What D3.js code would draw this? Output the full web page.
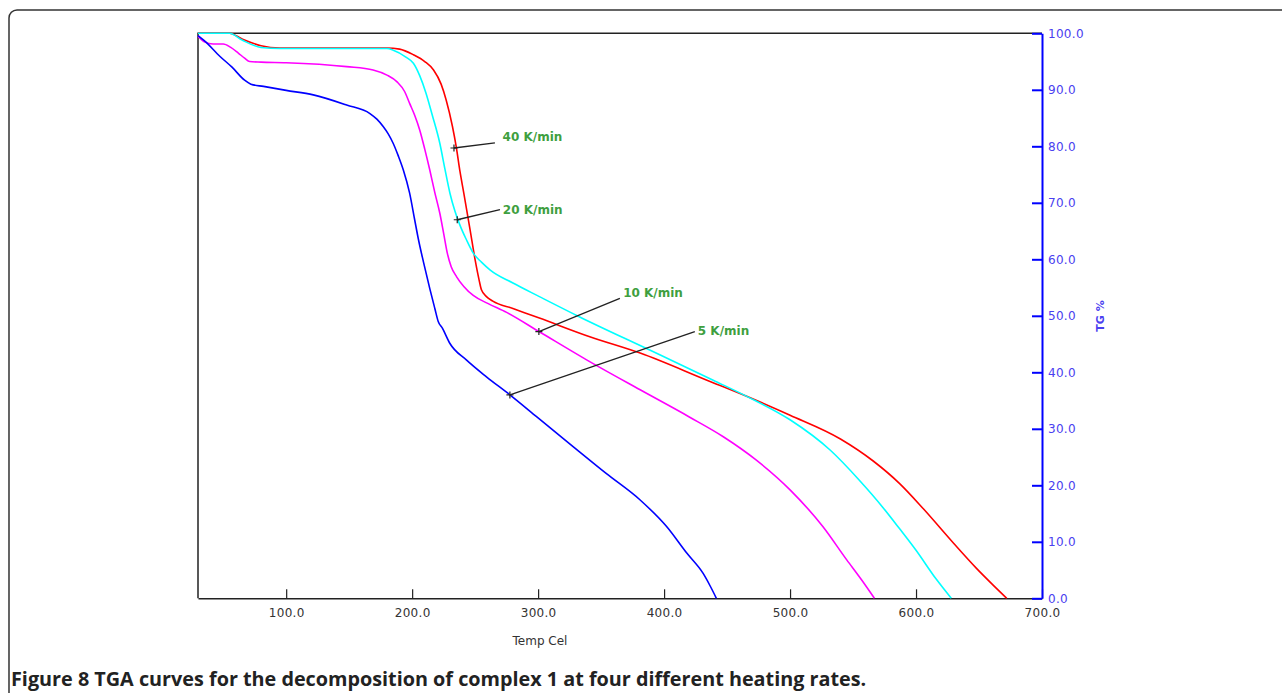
<!DOCTYPE html>
<html>
<head>
<meta charset="utf-8">
<script src="https://cdn.jsdelivr.net/npm/d3@7"></script>
<style>
  body { margin: 0; background: #fff; }
  svg { display: block; }
</style>
</head>
<body>
<div id="chart"></div>
<script>
// TGA curves, [temperature °C, mass %]
const rate40 = [
  [30, 100], [55, 100], [65, 99], [80, 97.8], [95, 97.4], [180, 97.4], [190, 97.2],
  [201, 96.2], [210, 95], [217, 93.5], [223, 91], [227, 88.2], [232, 83.5], [235, 79.9],
  [238, 75.5], [241, 71.7], [246, 65.2], [250, 59.9], [253, 56.5], [255, 54.6], [259, 53.4],
  [264, 52.6], [280, 51.3], [301, 49.6], [341, 46.3], [381, 43.4], [434, 38.6], [466, 35.7],
  [500, 32.4], [540, 28.2], [566, 24.3], [587, 20.3], [606, 15.8], [630, 9.7], [648, 5.3],
  [660, 2.6], [672, 0]
];
const rate20 = [
  [30, 100], [55, 100], [65, 98.8], [80, 97.5], [95, 97.3], [180, 97.3], [185, 97],
  [195, 95.8], [201, 94.7], [206, 92.5], [211, 89.4], [216, 85.5], [222, 80.5], [226, 76],
  [230, 71.7], [234, 68.5], [238, 66], [243, 63.5], [248.5, 61.1], [255, 59.5], [262, 58.1],
  [280, 55.8], [301, 53.4], [333, 49.8], [389, 43.9], [439, 38.6], [466, 35.7], [500, 31.6],
  [532, 26.2], [555, 20.9], [574, 16.0], [587, 12.3], [600, 8.5], [616, 3.4], [628, 0]
];
const rate10 = [
  [30, 99.5], [35, 98.5], [42, 98.1], [50, 98.1], [56, 97.5], [62, 96.5], [67, 95.6],
  [71, 95.0], [80, 94.9], [100, 94.8], [148, 94.1], [169, 93.5], [180, 92.6], [188, 91.4],
  [194, 89.7], [198, 87.6], [202, 85.5], [206, 82.9], [210, 79.5], [214, 75.8], [218, 71.8],
  [222, 68.1], [225, 64.6], [228, 61.0], [231, 58.7], [235.3, 56.9], [241, 55.2],
  [248.5, 53.6], [260, 52.2], [275, 50.6], [300, 47.3], [338.5, 42.2], [381, 36.9],
  [420, 32.1], [447, 28.6], [473, 24.5], [500, 19.2], [526, 12.7], [545, 6.8], [557, 3.2],
  [567, 0]
];
const rate5 = [
  [30, 99.6], [35, 98.7], [47.5, 95.9], [57, 94], [67, 91.7], [72, 91.0], [82, 90.6],
  [100, 89.9], [121.5, 89.1], [148, 87.3], [166.5, 85.8], [172, 84.8], [177, 83.5],
  [181, 82.2], [185, 80.5], [189, 78.3], [193, 75.8], [198, 71.7], [202, 67], [205, 63.5],
  [209, 59.5], [214, 54.8], [218, 51.3], [220.7, 49.0], [224, 47.8], [230, 45.1],
  [243, 42.2], [259, 39.2], [277.6, 36.0], [299, 32.1], [328, 26.8], [354, 22.1],
  [381, 17.4], [402, 12.7], [418, 8.0], [431, 4.4], [437, 2], [441.5, 0]
];
const seriesColors = ['#ff0000', '#00ffff', '#ff00ff', '#0000ff'];

// label: text, point on curve, end of leader line, text anchor point
const labelNames = ['40 K/min', '20 K/min', '10 K/min', '5 K/min'];
const labelAt = [[233.2, 79.7], [235.8, 67], [300.6, 47.2], [277.6, 36]];
const labelEnd = [[265.7, 80.6], [269.7, 68.8], [364.9, 53.1], [424.4, 47.2]];
const labelText = [[271.8, 81.7], [272, 68.7], [367.5, 54], [426.8, 47.4]];

const xTicks = [100, 200, 300, 400, 500, 600, 700];
const yTicks = [0, 10, 20, 30, 40, 50, 60, 70, 80, 90, 100];

const w = 1282;
const h = 693;

const xScale = d3.scaleLinear()
  .domain([30, 700])
  .range([198, 1042]);

const yScale = d3.scaleLinear()
  .domain([0, 100])
  .range([598.3, 33.3]);

const svg = d3.select('#chart')
  .append('svg')
  .attr('width', w)
  .attr('height', h);

// figure frame (rounded box running off the page)
svg.append('rect')
  .attr('x', 9)
  .attr('y', 10)
  .attr('width', 1320)
  .attr('height', 720)
  .attr('rx', 8)
  .attr('fill', 'none')
  .attr('stroke', '#333')
  .attr('stroke-width', 1.5);

// top and left borders of plot
svg.append('path')
  .attr('d', 'M' + xScale(700) + ',' + yScale(100) + 'H' + xScale(30) + 'V' + yScale(0))
  .attr('fill', 'none')
  .attr('stroke', '#222')
  .attr('stroke-width', 1.5);

const xAxis = svg.append('g')
  .attr('transform', 'translate(0,' + yScale(0) + ')')
  .call(d3.axisBottom(xScale)
    .tickValues(xTicks)
    .tickSizeInner(-9)
    .tickSizeOuter(0)
    .tickPadding(10)
    .tickFormat(d3.format('.1f')));
xAxis.select('.domain').attr('stroke', '#222').attr('stroke-width', 1.5);
xAxis.selectAll('.tick line').attr('stroke', '#222').attr('stroke-width', 1.2);
xAxis.selectAll('text')
  .attr('font-family', 'DejaVu Sans, sans-serif')
  .attr('font-size', '12px')
  .attr('letter-spacing', '0.3px')
  .attr('fill', '#333');

const yAxis = svg.append('g')
  .attr('transform', 'translate(' + xScale(700) + ',0)')
  .call(d3.axisRight(yScale)
    .tickValues(yTicks)
    .tickSizeInner(-10)
    .tickSizeOuter(0)
    .tickPadding(6)
    .tickFormat(d3.format('.1f')));
yAxis.select('.domain').attr('stroke', '#0000ff').attr('stroke-width', 2);
yAxis.selectAll('.tick line').attr('stroke', '#0000ff').attr('stroke-width', 2);
yAxis.selectAll('text')
  .attr('font-family', 'DejaVu Sans, sans-serif')
  .attr('font-size', '12px')
  .attr('letter-spacing', '0.3px')
  .attr('fill', '#4a40f0');

svg.append('text')
  .text('Temp Cel')
  .attr('x', 540)
  .attr('y', 645)
  .attr('font-family', 'DejaVu Sans, sans-serif')
  .attr('font-size', '12px')
  .attr('fill', '#333')
  .attr('text-anchor', 'middle');

svg.append('text')
  .text('TG %')
  .attr('transform', 'translate(1104,316) rotate(-90)')
  .attr('font-family', 'DejaVu Sans, sans-serif')
  .attr('font-size', '11px')
  .attr('font-weight', 'bold')
  .attr('fill', '#4a40f0')
  .attr('text-anchor', 'middle');

const line = d3.line()
  .x(function(d) { return xScale(d[0]); })
  .y(function(d) { return yScale(d[1]); })
  .curve(d3.curveMonotoneX);

svg.selectAll('path.curve')
  .data([rate40, rate20, rate10, rate5])
  .enter()
  .append('path')
  .attr('class', 'curve')
  .attr('d', line)
  .attr('fill', 'none')
  .attr('stroke', function(d, i) { return seriesColors[i]; })
  .attr('stroke-width', 1.6);

// leader lines with small crosses
labelNames.forEach(function(name, i) {
  const x0 = xScale(labelAt[i][0]);
  const y0 = yScale(labelAt[i][1]);
  const x1 = xScale(labelEnd[i][0]);
  const y1 = yScale(labelEnd[i][1]);
  svg.append('line')
    .attr('x1', x0).attr('y1', y0)
    .attr('x2', x1).attr('y2', y1)
    .attr('stroke', '#222')
    .attr('stroke-width', 1.3);
  svg.append('path')
    .attr('d', 'M' + (x0 - 3.5) + ',' + y0 + 'h7M' + x0 + ',' + (y0 - 3.5) + 'v7')
    .attr('stroke', '#222')
    .attr('stroke-width', 1.2);
  svg.append('text')
    .text(name)
    .attr('x', xScale(labelText[i][0]))
    .attr('y', yScale(labelText[i][1]))
    .attr('dy', '0.35em')
    .attr('font-family', 'DejaVu Sans, sans-serif')
    .attr('font-size', '12px')
    .attr('font-weight', 'bold')
    .attr('fill', '#3f9f3f');
});

const caption = svg.append('text')
  .attr('x', 11)
  .attr('y', 686)
  .attr('font-family', 'Open Sans, sans-serif')
  .attr('font-size', '19.8px')
  .attr('font-weight', 'bold')
  .attr('fill', '#222');
caption.append('tspan').text('Figure 8');
caption.append('tspan').text(' TGA curves for the decomposition of complex 1 at four different heating rates.');
</script>
</body>
</html>
